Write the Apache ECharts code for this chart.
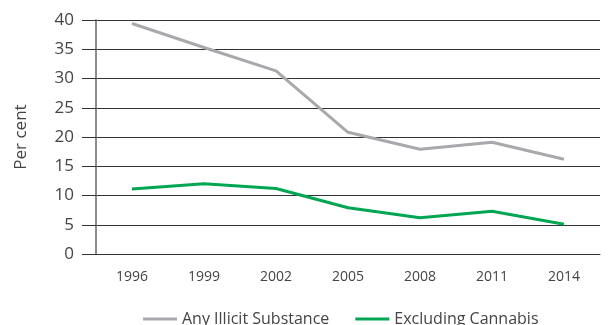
<!DOCTYPE html>
<html>
<head>
<meta charset="utf-8">
<script src="https://cdn.jsdelivr.net/npm/echarts@6/dist/echarts.min.js"></script>
<style>
    html, body { margin: 0; padding: 0; background: #fff; }
    #chart { width: 608px; height: 325px; }
</style>
</head>
<body>
<div id="chart"></div>
<script>
var years = ['1996', '1999', '2002', '2005', '2008', '2011', '2014'];
var anyIllicit = [39.4, 35.3, 31.3, 20.8, 17.9, 19.1, 16.2];
var exclCannabis = [11.1, 12.0, 11.2, 7.9, 6.2, 7.3, 5.1];

var font = '"Open Sans", sans-serif';

var myChart = echarts.init(document.getElementById('chart'));
var option = {
    animation: false,
    grid: {
        left: 96,
        right: 8,
        top: 20,
        bottom: 71
    },
    legend: {
        top: 306,
        left: 138,
        itemGap: 26,
        itemWidth: 34,
        itemHeight: 3,
        icon: 'rect',
        textStyle: { color: '#444', fontSize: 16, fontFamily: font },
        data: ['Any Illicit Substance', 'Excluding Cannabis']
    },
    xAxis: {
        type: 'category',
        boundaryGap: true,
        data: years,
        axisLine: { lineStyle: { color: '#333', width: 1 } },
        axisTick: { interval: 0, length: 11, lineStyle: { color: '#555', width: 1.5 } },
        axisLabel: { interval: 0, margin: 16, color: '#444', fontSize: 14, fontFamily: font }
    },
    yAxis: {
        type: 'value',
        min: 0,
        max: 40,
        interval: 5,
        name: 'Per cent',
        nameLocation: 'middle',
        nameGap: 66,
        nameTextStyle: { color: '#444', fontSize: 17, fontFamily: font },
        axisLine: { show: true, lineStyle: { color: '#666', width: 1.5 } },
        axisTick: { show: true, length: 14, lineStyle: { color: '#333' } },
        axisLabel: { margin: 22, color: '#444', fontSize: 17, fontFamily: font },
        splitLine: { lineStyle: { color: '#333', width: 1 } }
    },
    series: [
        {
            name: 'Any Illicit Substance',
            type: 'line',
            data: anyIllicit,
            color: '#a7a9ac',
            symbol: 'none',
            lineStyle: { color: '#a7a9ac', width: 3 }
        },
        {
            name: 'Excluding Cannabis',
            type: 'line',
            data: exclCannabis,
            color: '#00a651',
            symbol: 'none',
            lineStyle: { color: '#00a651', width: 3 }
        }
    ]
};
myChart.setOption(option);
</script>
</body>
</html>
